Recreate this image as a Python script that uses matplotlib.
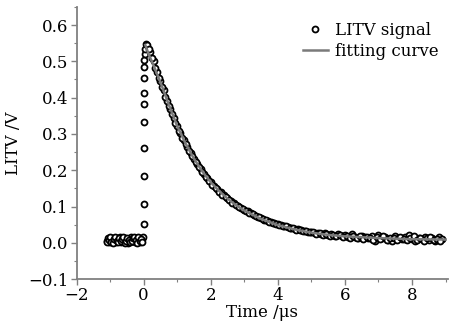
import numpy as np
import matplotlib
matplotlib.use("Agg")
import matplotlib.pyplot as plt
from matplotlib.ticker import MultipleLocator

plt.rcParams["font.family"] = ["DejaVu Serif"]

# measured LITV signal (time in us, signal in V)
base_t = [-1.10, -1.06, -1.02, -0.98, -0.94, -0.90, -0.86, -0.82, -0.78, -0.74,
          -0.70, -0.66, -0.62, -0.58, -0.54, -0.50, -0.46, -0.42, -0.38, -0.34,
          -0.30, -0.26, -0.22, -0.18, -0.14, -0.10, -0.06, -0.02]
base_v = [0.005, 0.012, 0.002, 0.010, 0.014, 0.004, 0.008, 0.001, 0.012, 0.006,
          0.015, 0.003, 0.009, 0.002, 0.013, 0.007, 0.000, 0.011, 0.015, 0.004,
          0.008, 0.002, 0.012, 0.006, 0.014, 0.001, 0.010, 0.016]
base2_t = [-1.08, -1.04, -1.00, -0.96, -0.92, -0.88, -0.84, -0.80, -0.76, -0.72,
           -0.68, -0.64, -0.60, -0.56, -0.52, -0.48, -0.44, -0.40, -0.36, -0.32,
           -0.28, -0.24, -0.20, -0.16, -0.12, -0.08, -0.04]
base2_v = [0.001, 0.008, 0.015, 0.003, 0.000, 0.011, 0.016, 0.005, 0.001, 0.013,
           0.004, 0.010, 0.016, 0.000, 0.006, 0.014, 0.009, 0.002, 0.006, 0.012,
           0.016, 0.009, 0.000, 0.015, 0.005, 0.011, 0.003]

rise_t = [0.00, 0.00, 0.00, 0.00, 0.00, 0.00, 0.00, 0.00, 0.01, 0.02, 0.03, 0.04, 0.06]
rise_v = [0.053, 0.107, 0.184, 0.261, 0.334, 0.383, 0.412, 0.455, 0.485, 0.505,
          0.52, 0.535, 0.548]

decay_t = [0.1, 0.2, 0.3, 0.4, 0.5, 0.6, 0.7, 0.8, 0.9, 1.0,
           1.1, 1.2, 1.3, 1.4, 1.5, 1.6, 1.7, 1.8, 1.9, 2.0,
           2.1, 2.2, 2.3, 2.4, 2.5, 2.6, 2.7, 2.8, 2.9, 3.0,
           3.1, 3.2, 3.3, 3.4, 3.5, 3.6, 3.7, 3.8, 3.9, 4.0,
           4.1, 4.2, 4.3, 4.4, 4.5, 4.6, 4.7, 4.8, 4.9, 5.0,
           5.1, 5.2, 5.3, 5.4, 5.5, 5.6, 5.7, 5.8, 5.9, 6.0,
           6.1, 6.2, 6.3, 6.4, 6.5, 6.6, 6.7, 6.8, 6.9, 7.0,
           7.1, 7.2, 7.3, 7.4, 7.5, 7.6, 7.7, 7.8, 7.9, 8.0,
           8.1, 8.2, 8.3, 8.4, 8.5, 8.6, 8.7, 8.8, 8.9]
decay_v = [0.545, 0.525, 0.500, 0.470, 0.445, 0.420, 0.392, 0.370, 0.345, 0.322,
           0.302, 0.283, 0.265, 0.248, 0.232, 0.217, 0.203, 0.190, 0.178, 0.167,
           0.157, 0.148, 0.139, 0.131, 0.123, 0.116, 0.110, 0.102, 0.097, 0.091,
           0.087, 0.081, 0.078, 0.072, 0.069, 0.064, 0.061, 0.057, 0.055, 0.051,
           0.049, 0.046, 0.043, 0.042, 0.038, 0.037, 0.034, 0.033, 0.030, 0.031,
           0.027, 0.028, 0.024, 0.026, 0.022, 0.024, 0.020, 0.023, 0.018, 0.021,
           0.015, 0.024, 0.017, 0.013, 0.019, 0.016, 0.012, 0.020, 0.005, 0.022,
           0.012, 0.016, 0.008, 0.005, 0.018, 0.013, 0.010, 0.015, 0.022, 0.011,
           0.006, 0.014, 0.010, 0.017, 0.007, 0.012, 0.005, 0.015, 0.010]
decay2_t = [0.15, 0.25, 0.35, 0.45, 0.55, 0.65, 0.75, 0.85, 0.95, 1.05,
            1.15, 1.25, 1.35, 1.45, 1.55, 1.65, 1.75, 1.85, 1.95, 2.05,
            2.15, 2.25, 2.35, 2.45, 2.55, 2.65, 2.75, 2.85, 2.95, 3.05,
            3.15, 3.25, 3.35, 3.45, 3.55, 3.65, 3.75, 3.85, 3.95, 4.05,
            4.15, 4.25, 4.35, 4.45, 4.55, 4.65, 4.75, 4.85, 4.95, 5.05,
            5.15, 5.25, 5.35, 5.45, 5.55, 5.65, 5.75, 5.85, 5.95, 6.05,
            6.15, 6.25, 6.35, 6.45, 6.55, 6.65, 6.75, 6.85, 6.95, 7.05,
            7.15, 7.25, 7.35, 7.45, 7.55, 7.65, 7.75, 7.85, 7.95, 8.05,
            8.15, 8.25, 8.35, 8.45, 8.55, 8.65, 8.75, 8.85]
decay2_v = [0.535, 0.510, 0.482, 0.455, 0.428, 0.402, 0.378, 0.355, 0.331, 0.309,
            0.290, 0.271, 0.254, 0.238, 0.222, 0.208, 0.194, 0.182, 0.170, 0.160,
            0.150, 0.141, 0.133, 0.125, 0.118, 0.111, 0.104, 0.099, 0.092, 0.088,
            0.082, 0.079, 0.073, 0.071, 0.065, 0.063, 0.058, 0.056, 0.052, 0.050,
            0.046, 0.045, 0.041, 0.040, 0.036, 0.036, 0.032, 0.033, 0.029, 0.029,
            0.025, 0.027, 0.022, 0.025, 0.019, 0.022, 0.018, 0.021, 0.016, 0.019,
            0.012, 0.018, 0.014, 0.020, 0.010, 0.017, 0.013, 0.008, 0.016, 0.011,
            0.020, 0.009, 0.014, 0.012, 0.007, 0.016, 0.011, 0.009, 0.014, 0.018,
            0.008, 0.012, 0.006, 0.013, 0.016, 0.009, 0.011, 0.006]

# exponential fit
fit_t = [0.05, 0.15, 0.3, 0.5, 0.75, 1.0, 1.25, 1.5, 1.75, 2.0, 2.25, 2.5,
         2.75, 3.0, 3.5, 4.0, 4.5, 5.0, 5.5, 6.0, 7.0, 8.0, 9.0]
fit_v = [0.545, 0.520, 0.488, 0.443, 0.381, 0.322, 0.274, 0.232, 0.197, 0.167,
         0.143, 0.122, 0.104, 0.089, 0.066, 0.049, 0.037, 0.028, 0.022, 0.018,
         0.013, 0.010, 0.009]

sig_t = base_t + base2_t + rise_t + decay_t + decay2_t
sig_v = base_v + base2_v + rise_v + decay_v + decay2_v

fig = plt.figure(figsize=(4.5, 3.28), dpi=100)
ax = fig.add_axes([0.170, 0.149, 0.826, 0.830])

ax.plot(sig_t, sig_v, linestyle="none", marker="o", markersize=4.3,
        markerfacecolor="white", markeredgecolor="black", markeredgewidth=1.3,
        label="LITV signal", zorder=2)
ax.plot(fit_t, fit_v, color="#7a7a7a", linewidth=1.8, label="fitting curve", zorder=3)

ax.set_xlim(-2, 9.08)
ax.set_ylim(-0.1, 0.65)
ax.xaxis.set_minor_locator(MultipleLocator(1))
ax.yaxis.set_minor_locator(MultipleLocator(0.05))
ax.set_xticks([-2, 0, 2, 4, 6, 8])
ax.set_xticklabels(["\u22122", "0", "2", "4", "6", "8"])
ax.set_yticks([-0.1, 0.0, 0.1, 0.2, 0.3, 0.4, 0.5, 0.6])
ax.set_yticklabels(["\u22120.1", "0.0", "0.1", "0.2", "0.3", "0.4", "0.5", "0.6"])

for side in ["top", "right"]:
    ax.spines[side].set_visible(False)
for side in ["left", "bottom"]:
    ax.spines[side].set_color("#808080")
    ax.spines[side].set_linewidth(1.3)
ax.tick_params(which="major", direction="out", length=4, width=1.0,
               color="#808080", labelsize=12, pad=2)
ax.tick_params(which="minor", direction="out", length=2.5, width=0.8, color="#808080")

ax.set_xlabel("Time /\u03bcs", fontsize=12, labelpad=0)
ax.set_ylabel("LITV /V", fontsize=12, labelpad=4)

ax.legend(loc="upper right", frameon=False, fontsize=12, handlelength=1.5,
          handletextpad=0.4, borderaxespad=0.2, labelspacing=0.2,
          bbox_to_anchor=(1.0, 0.98))

fig.savefig("out.png", dpi=100)
